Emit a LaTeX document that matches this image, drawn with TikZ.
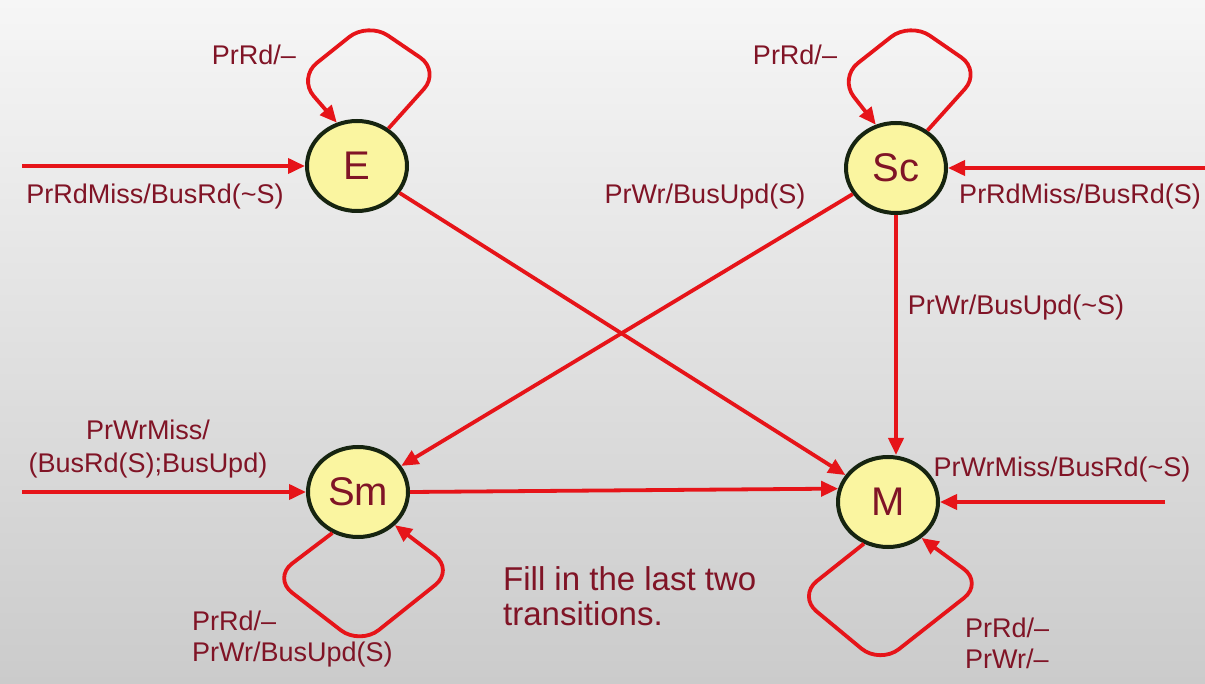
\documentclass[tikz,border=0pt]{standalone}
\usepackage{fontspec}
\setmainfont{Liberation Sans}
\usetikzlibrary{arrows.meta,shapes.geometric}
\definecolor{lbl}{RGB}{128,20,38}
\definecolor{arr}{RGB}{230,20,25}
\definecolor{nfill}{RGB}{250,245,160}
\definecolor{nborder}{RGB}{22,36,16}
\definecolor{bgtop}{RGB}{246,246,246}
\definecolor{bgbot}{RGB}{203,203,203}
\tikzset{
  state/.style={ellipse,draw=nborder,line width=4pt,fill=nfill,minimum width=100pt,minimum height=90pt,inner sep=0pt,text=lbl,font=\fontsize{40}{44}\selectfont},
  tr/.style={draw=arr,line width=3.8pt,-{Triangle[length=17pt,width=15pt]}},
  loopline/.style={tr,rounded corners=24pt},
  lab/.style={text=lbl,font=\fontsize{27}{31}\selectfont,inner sep=0pt}
}
\begin{document}
\begin{tikzpicture}[x=1pt,y=-1pt]
\shade[top color=bgtop,bottom color=bgbot] (0,0) rectangle (1205,684);
\useasboundingbox (0,0) rectangle (1205,684);
% states
\node[state] (E) at (357,166) {E};
\node[state] (Sc) at (896,168) {Sc};
\node[state] (Sm) at (358,492) {Sm};
\node[state] (M) at (888,502) {M};
% free ends
\coordinate (inE) at (22,166);
\coordinate (inSc) at (1205,168);
\coordinate (inSm) at (22,492);
\coordinate (inM) at (1165,502);
% connectors
\draw[tr] (inE) -- (E);
\draw[tr] (inSc) -- (Sc);
\draw[tr] (inSm) -- (Sm);
\draw[tr] (inM) -- (M);
\draw[tr] (E) -- (M);
\draw[tr] (Sc) -- (Sm);
\draw[tr] (Sc.south) -- (Sc.south |- M.north);
\draw[tr] (Sm.east) -- (M.165);
% loops
\draw[loopline] (E.50) -- (440,71) -- (368,22) -- (298,78) -- (E.115);
\draw[loopline] (Sc.50) -- (981,71) -- (910,22) -- (839,78) -- (Sc.115);
\draw[loopline] (Sm.238) -- (273,578) -- (360,645) -- (454,570) -- (Sm.318);
\draw[loopline] (M.240) -- (798,596) -- (880,664) -- (983,583) -- (M.313);
% labels
\node[lab] (lE) at (254,55) {PrRd/–};
\node[lab] (lSc) at (795,55) {PrRd/–};
\node[lab] (lin1) at (155,197) {PrRdMiss/BusRd(\textasciitilde S)};
\node[lab] (lScSm) at (705,197) {PrWr/BusUpd(S)};
\node[lab] (lin2) at (1080,197) {PrRdMiss/BusRd(S)};
\node[lab] (lScM) at (1016,308) {PrWr/BusUpd(\textasciitilde S)};
\node[lab,align=center] (lin3) at (148,449) {PrWrMiss/\\[2pt](BusRd(S);BusUpd)};
\node[lab] (lin4) at (1062,470) {PrWrMiss/BusRd(\textasciitilde S)};
\node[lab,align=left,anchor=west,font=\fontsize{33}{35}\selectfont] (fill) at (503,596) {Fill in the last two\\transitions.};
\node[lab,align=left,anchor=west] (lSm) at (192,639) {PrRd/–\\PrWr/BusUpd(S)};
\node[lab,align=left,anchor=west] (lM) at (965,643) {PrRd/–\\PrWr/–};
\end{tikzpicture}
\end{document}
